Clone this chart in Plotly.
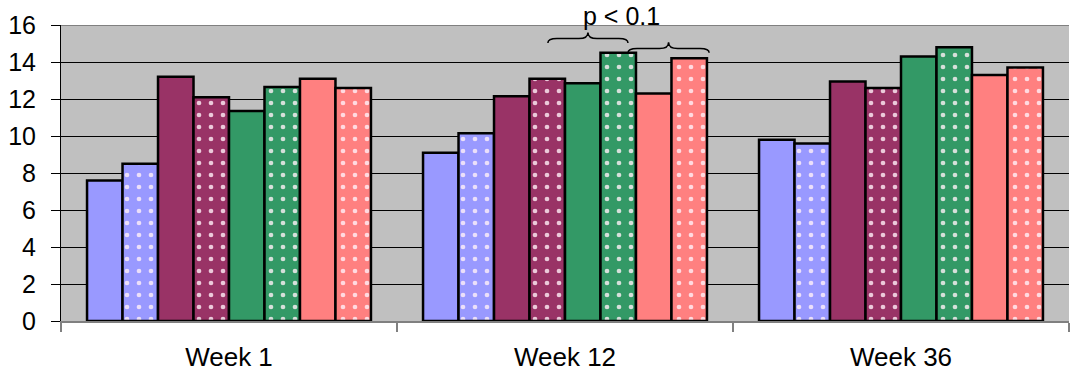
import plotly.graph_objects as go

categories = ["Week 1", "Week 12", "Week 36"]
series_colors = ["#9999FF", "#9999FF", "#993366", "#993366", "#339966", "#339966", "#FF8080", "#FF8080"]
series_patterned = [False, True, False, True, False, True, False, True]
series_values = [
    [7.6, 9.1, 9.8],
    [8.5, 10.15, 9.6],
    [13.2, 12.15, 12.95],
    [12.1, 13.1, 12.6],
    [11.35, 12.85, 14.3],
    [12.65, 14.5, 14.8],
    [13.1, 12.3, 13.3],
    [12.6, 14.2, 13.7],
]
y_ticks = [0, 2, 4, 6, 8, 10, 12, 14, 16]

FONT = "Liberation Sans, Arial, sans-serif"

fig = go.Figure()
for vals, col, pat in zip(series_values, series_colors, series_patterned):
    marker = dict(color=col, line=dict(color="black", width=2.5))
    if pat:
        marker["pattern"] = dict(shape=".", fgcolor="rgba(255,240,248,0.8)", bgcolor=col,
                                 size=12, solidity=0.12, fillmode="replace")
    fig.add_trace(go.Bar(x=categories, y=vals, marker=marker, showlegend=False))

def brace(x0, x1, y_end, y_body, y_tip, d=0.009):
    xm = (x0 + x1) / 2
    return (f"M {x0},{y_end} Q {x0},{y_body} {x0+d},{y_body} L {xm-d},{y_body} "
            f"Q {xm},{y_body} {xm},{y_tip} Q {xm},{y_body} {xm+d},{y_body} "
            f"L {x1-d},{y_body} Q {x1},{y_body} {x1},{y_end}")

shapes = [
    dict(type="path", xref="paper", yref="y", path=brace(0.483, 0.5625, 15.03, 15.27, 15.6),
         line=dict(color="black", width=1.5)),
    dict(type="path", xref="paper", yref="y", path=brace(0.5625, 0.643, 14.5, 14.73, 15.07),
         line=dict(color="black", width=1.5)),
    dict(type="line", xref="paper", yref="y", x0=0, x1=1, y0=16, y1=16,
         line=dict(color="#808080", width=2)),
]

fig.update_layout(
    width=1070, height=377,
    margin=dict(l=61, r=1, t=25, b=56),
    paper_bgcolor="white",
    plot_bgcolor="#C0C0C0",
    barmode="group",
    bargap=0.155,
    bargroupgap=0,
    font=dict(family=FONT, size=25, color="black"),
    shapes=shapes,
    annotations=[dict(text="p < 0.1", xref="paper", yref="paper", x=0.5556, y=1.03,
                      showarrow=False, font=dict(size=25, family=FONT), yanchor="middle")],
    xaxis=dict(type="category", showgrid=False, ticks="outside", tickson="boundaries",
               ticklen=9, tickcolor="#808080", tickwidth=2, showline=True, linecolor="#808080",
               linewidth=2, tickfont=dict(size=26, family=FONT), zeroline=False,
               ticklabelstandoff=12),
    yaxis=dict(range=[0, 16], tickvals=y_ticks, ticks="outside", ticklen=9, tickcolor="black",
               showline=True, linecolor="black", linewidth=1, showgrid=True, gridcolor="black",
               gridwidth=1, zeroline=False, tickfont=dict(size=25, family=FONT),
               ticklabelstandoff=10),
)

fig.write_html("out.html")
